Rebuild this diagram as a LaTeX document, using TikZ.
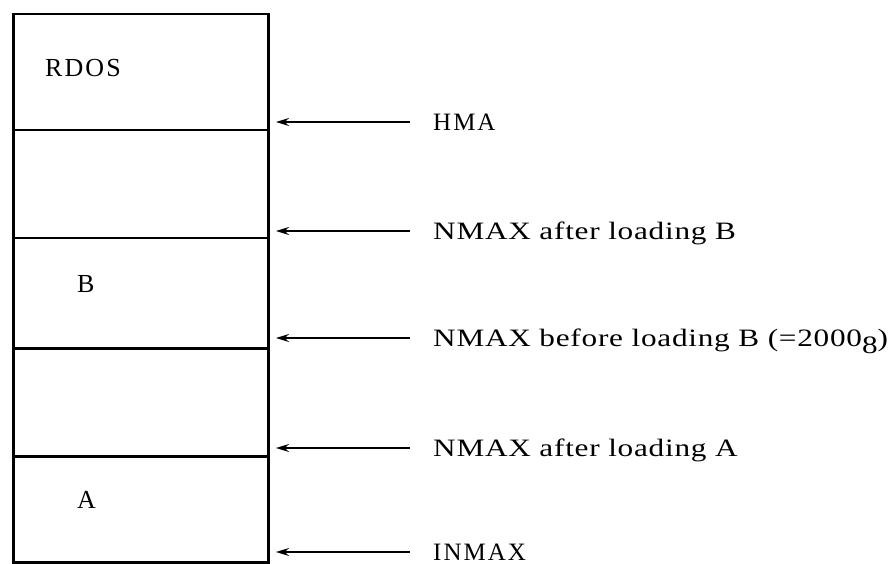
\documentclass[tikz,border=0pt]{standalone}
\usepackage{fontspec}
\setmainfont{Liberation Serif}
\newfontfamily\twfont{Liberation Serif}[FakeStretch=1.25, LetterSpace=3]
\newfontfamily\rmlab{Liberation Serif}[LetterSpace=8]
\usetikzlibrary{arrows.meta}
\begin{document}
\begin{tikzpicture}[x=1pt,y=-1pt,
  seg/.style={draw, line width=2.5pt, anchor=north west, inner sep=0pt, minimum width=255pt},
  boxlab/.style={anchor=west, inner sep=0pt, font=\rmlab\fontsize{26}{26}\selectfont, text height=17pt, text depth=0pt},
  tlab/.style={anchor=west, inner sep=0pt, font=\twfont\fontsize{25}{26}\selectfont, text height=16.5pt, text depth=0pt},
  slab/.style={anchor=west, inner sep=0pt, font=\rmlab\fontsize{25}{25}\selectfont, text height=16.5pt, text depth=0pt},
  ptr/.style={line width=1.8pt, -{Stealth[length=13pt,width=8pt]}}]
\useasboundingbox (0,0) rectangle (892,564);
% memory segments
\node[seg, minimum height=116pt] (srdos) at (12,13) {};
\node[seg, minimum height=108pt] (sfree1) at (12,129) {};
\node[seg, minimum height=110pt] (sb) at (12,237) {};
\node[seg, minimum height=108pt] (sfree2) at (12,347) {};
\node[seg, minimum height=106pt] (sa) at (12,455) {};
\node[boxlab] (trdos) at (45,68) {RDOS};
\node[boxlab] (tb) at (77,284) {B};
\node[boxlab] (ta) at (77,500) {A};
% tip line
\coordinate (tipx) at (276,0);
% labels
\node[slab] (hma) at (433,122) {HMA};
\node[tlab] (nab) at (433,231) {NMAX after loading B};
\node[tlab] (nbb) at (433,338) {NMAX before loading B (=2000\raisebox{-7pt}{8})};
\node[tlab] (naa) at (433,448) {NMAX after loading A};
\node[slab] (inmax) at (433,552) {INMAX};
% arrows
\foreach \n in {hma,nab,nbb,naa,inmax}
  \draw[ptr] ([xshift=-23pt]\n.west) -- (tipx |- \n.west);
\end{tikzpicture}
\end{document}
